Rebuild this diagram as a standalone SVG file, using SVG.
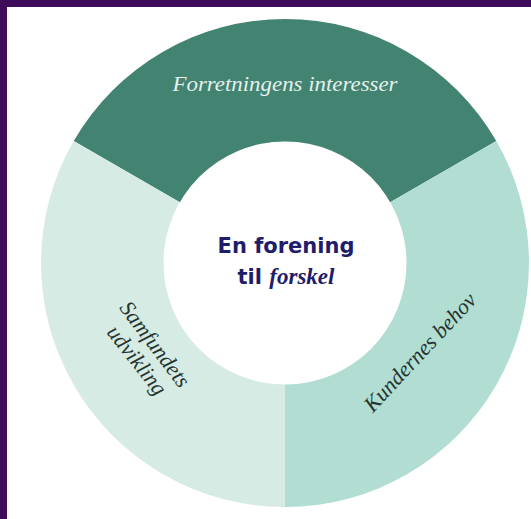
<svg xmlns="http://www.w3.org/2000/svg" width="531" height="519" viewBox="0 0 531 519">
<style>
.seg{stroke:none}
.lbl{font-family:"Liberation Serif",serif;font-style:italic;font-size:22px;text-anchor:middle}
.dark{fill:#26342f}
.ctr{font-family:"DejaVu Sans",sans-serif;font-weight:bold;font-size:21px;fill:#1f1d6b;text-anchor:middle}
</style>
<rect x="0" y="0" width="531" height="519" fill="#ffffff"/>
<rect x="0" y="0" width="531" height="7" fill="#3e0a5a"/>
<rect x="0" y="0" width="7" height="519" fill="#3e0a5a"/>
<g id="forretning">
<path class="seg" fill="#438371" d="M285,263 L73.7,141 A244,244 0 0 1 496.3,141 Z"/>
<text class="lbl" x="285" y="91" fill="#e4f1ec" textLength="225" lengthAdjust="spacingAndGlyphs">Forretningens interesser</text>
</g>
<g id="samfund">
<path class="seg" fill="#d5ebe4" d="M285,263 L285,507 A244,244 0 0 1 73.7,141 Z"/>
<text class="lbl dark" transform="translate(154,345) rotate(53)" y="6">Samfundets</text>
<text class="lbl dark" transform="translate(136,361) rotate(52)" y="6">udvikling</text>
</g>
<g id="kunder">
<path class="seg" fill="#b1ddd2" d="M285,263 L496.3,141 A244,244 0 0 1 285,507 Z"/>
<text class="lbl dark" transform="translate(421,353) rotate(-47)" y="6">Kundernes behov</text>
</g>
<g id="center">
<circle cx="285" cy="263" r="121.5" fill="#ffffff"/>
<text class="ctr" x="286" y="253">En forening</text>
<text class="ctr" x="286" y="284">til <tspan font-family="Liberation Serif, serif" font-style="italic" font-weight="bold" font-size="23px">forskel</tspan></text>
</g>
<g id="connectors"></g>
</svg>
